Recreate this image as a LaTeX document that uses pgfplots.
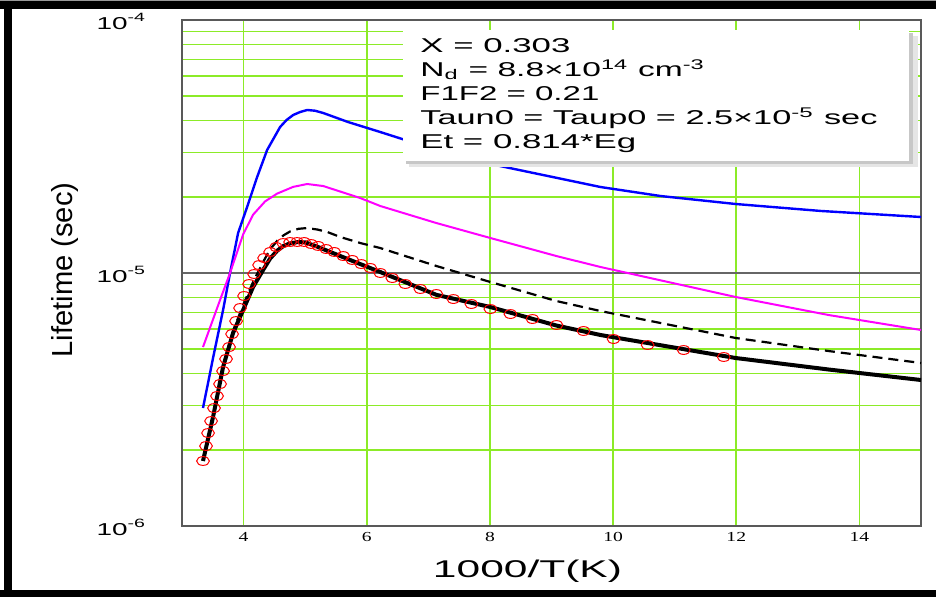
\documentclass[border=0pt]{standalone}
\usepackage{pgfplots}
\pgfplotsset{compat=1.18}
\usepackage{fontspec}
\setmainfont{Liberation Sans}
\newfontfamily\serif{Liberation Serif}
\usepackage{graphicx}
\definecolor{gridgreen}{RGB}{140,235,40}
\definecolor{mag}{RGB}{255,0,255}
\definecolor{blu}{RGB}{0,0,255}
\newcommand\lw[2]{\resizebox{#1}{\height}{#2}}
\newcommand\xs[1]{\scalebox{1.42}[1]{#1}}

\begin{document}
\begin{tikzpicture}
\fill[white] (0,0) rectangle (468pt,298.5pt);
\fill[black] (0,0) rectangle (468pt,3.5pt);
\fill[black] (0,294pt) rectangle (468pt,298pt);
\fill[black!40] (0,298pt) rectangle (468pt,298.5pt);
\fill[black] (2pt,0) rectangle (6pt,298pt);

\begin{axis}[
  at={(91pt,35.5pt)}, anchor=south west,
  scale only axis, width=369.5pt, height=253pt,
  xmin=3, xmax=15, ymin=1e-6, ymax=1e-4, ymode=log,
  xtick={4,6,8,10,12,14},
  xticklabels={\xs{4},\xs{6},\xs{8},\xs{10},\xs{12},\xs{14}},
  ytick={1e-6,1e-5,1e-4},
  yticklabels={\lw{25pt}{10\textsuperscript{-6}},\lw{25pt}{10\textsuperscript{-5}},\lw{25pt}{10\textsuperscript{-4}}},
  minor ytick={2e-6,3e-6,4e-6,5e-6,6e-6,7e-6,8e-6,9e-6,2e-5,3e-5,4e-5,5e-5,6e-5,7e-5,8e-5,9e-5},
  xticklabel style={font=\serif\fontsize{6.9}{8}\selectfont, anchor=center, yshift=-5.25pt, inner sep=0pt},
  yticklabel style={font=\fontsize{8.6}{10}\selectfont, anchor=base east, xshift=-17.5pt, yshift=-4.5pt, inner sep=0pt},
  major tick length=0pt, minor tick length=0pt,
  axis line style={draw=black!65, line width=0.9pt},
  xmajorgrids, ymajorgrids, yminorgrids,
  major x grid style={draw=gridgreen, line width=0.8pt},
  major y grid style={draw=black!60, line width=0.6pt},
  minor y grid style={draw=gridgreen, line width=0.7pt},
  xlabel={\lw{94.5pt}{\fontsize{12.1}{14}\selectfont 1000/T(K)}},
  xlabel style={at={(rel axis cs:0.4675,-0.1008)}, anchor=base, inner sep=0pt},
  ylabel={\lw{87.5pt}{\fontsize{14.5}{16}\selectfont Lifetime (sec)}},
  ylabel style={at={(rel axis cs:-0.1475,0.506)}, anchor=base, inner sep=0pt},
]
% blue
\addplot[blu, line width=1.2pt] table {
3.341 2.926e-6
3.504 4.613e-6
3.667 7.14e-6
3.780 1.0e-5
3.911 1.439e-5
4.057 1.823e-5
4.220 2.395e-5
4.382 3.063e-5
4.593 3.777e-5
4.700 4.03e-5
4.805 4.212e-5
4.920 4.33e-5
5.033 4.409e-5
5.160 4.38e-5
5.293 4.290e-5
5.700 3.95e-5
6.220 3.608e-5
7.033 3.120e-5
8.008 2.697e-5
9.797 2.187e-5
10.772 2.015e-5
11.992 1.874e-5
13.374 1.759e-5
15.0 1.665e-5
};
% magenta
\addplot[mag, line width=1pt] table {
3.341 5.098e-6
3.618 7.823e-6
3.780 1.0e-5
3.992 1.42e-5
4.154 1.70e-5
4.350 1.92e-5
4.545 2.06e-5
4.805 2.19e-5
5.033 2.248e-5
5.293 2.207e-5
5.894 1.979e-5
6.220 1.840e-5
7.130 1.576e-5
8.008 1.375e-5
9.080 1.167e-5
9.797 1.056e-5
11.992 8.038e-6
13.500 6.823e-6
15.0 5.953e-6
};
% dashed black
\addplot[black, line width=1.1pt, dash pattern=on 5pt off 3pt] table {
3.341 1.823e-6
3.504 2.722e-6
3.667 4.290e-6
3.829 5.899e-6
3.992 7.474e-6
4.154 9.213e-6
4.317 1.105e-5
4.430 1.24e-5
4.545 1.340e-5
4.650 1.41e-5
4.756 1.460e-5
4.890 1.495e-5
5.033 1.506e-5
5.200 1.485e-5
5.358 1.453e-5
5.569 1.388e-5
5.894 1.314e-5
6.220 1.255e-5
7.130 1.066e-5
8.008 9.213e-6
9.080 7.75e-6
9.797 7.074e-6
11.992 5.535e-6
13.500 4.916e-6
15.0 4.409e-6
};
% red circles (measured)
\addplot[only marks, mark=o, mark size=2.2pt, red, mark options={xscale=1.45, line width=0.5pt}] table {
3.341 1.807e-6
3.390 2.071e-6
3.423 2.331e-6
3.472 2.600e-6
3.520 2.926e-6
3.569 3.265e-6
3.618 3.642e-6
3.667 4.098e-6
3.715 4.573e-6
3.764 5.098e-6
3.813 5.740e-6
3.878 6.460e-6
3.943 7.271e-6
4.008 8.112e-6
4.089 9.047e-6
4.171 9.908e-6
4.252 1.075e-5
4.333 1.146e-5
4.431 1.211e-5
4.528 1.267e-5
4.642 1.314e-5
4.756 1.326e-5
4.870 1.326e-5
4.984 1.326e-5
5.098 1.302e-5
5.211 1.279e-5
5.341 1.244e-5
5.472 1.211e-5
5.618 1.167e-5
5.764 1.126e-5
5.911 1.085e-5
6.057 1.047e-5
6.220 1.000e-5
6.415 9.554e-6
6.626 9.047e-6
6.870 8.646e-6
7.130 8.260e-6
7.407 7.891e-6
7.699 7.541e-6
8.008 7.205e-6
8.333 6.884e-6
8.691 6.579e-6
9.081 6.231e-6
9.520 5.899e-6
10.008 5.484e-6
10.561 5.192e-6
11.146 4.962e-6
11.797 4.656e-6
};
% solid black
\addplot[black, line width=2pt] table {
3.341 1.807e-6
3.504 2.697e-6
3.667 4.251e-6
3.829 5.792e-6
3.992 7.14e-6
4.154 8.805e-6
4.317 1.028e-5
4.430 1.14e-5
4.545 1.225e-5
4.650 1.28e-5
4.756 1.310e-5
4.880 1.325e-5
5.000 1.322e-5
5.200 1.27e-5
5.407 1.211e-5
5.894 1.085e-5
6.220 1.009e-5
7.130 8.2e-6
8.008 7.337e-6
9.080 6.2e-6
9.797 5.687e-6
11.992 4.613e-6
13.500 4.155e-6
15.0 3.777e-6
};
\end{axis}

% annotation box
\fill[black!10] (204.5pt,215pt) rectangle (459pt,280.5pt);
\fill[black!22] (203pt,216.5pt) rectangle (456.5pt,282pt);
\fill[white] (201.5pt,218pt) rectangle (454.5pt,283.5pt);
\begin{scope}[every node/.style={anchor=base west, inner sep=0pt, font=\fontsize{10}{12}\selectfont}]
\node at (210pt,272.25pt) {\lw{75pt}{X = 0.303}};
\node at (210pt,260.25pt) {\lw{142.5pt}{N\textsubscript{d} = 8.8×10\textsuperscript{14} cm\textsuperscript{-3}}};
\node at (210pt,248.25pt) {\lw{89.5pt}{F1F2 = 0.21}};
\node at (210pt,236.25pt) {\lw{228.5pt}{Taun0 = Taup0 = 2.5×10\textsuperscript{-5} sec}};
\node at (210pt,224.25pt) {\lw{108pt}{Et = 0.814*Eg}};
\end{scope}

\pgfresetboundingbox
\path[use as bounding box] (0,0) rectangle (468pt,298.5pt);
\end{tikzpicture}
\end{document}
